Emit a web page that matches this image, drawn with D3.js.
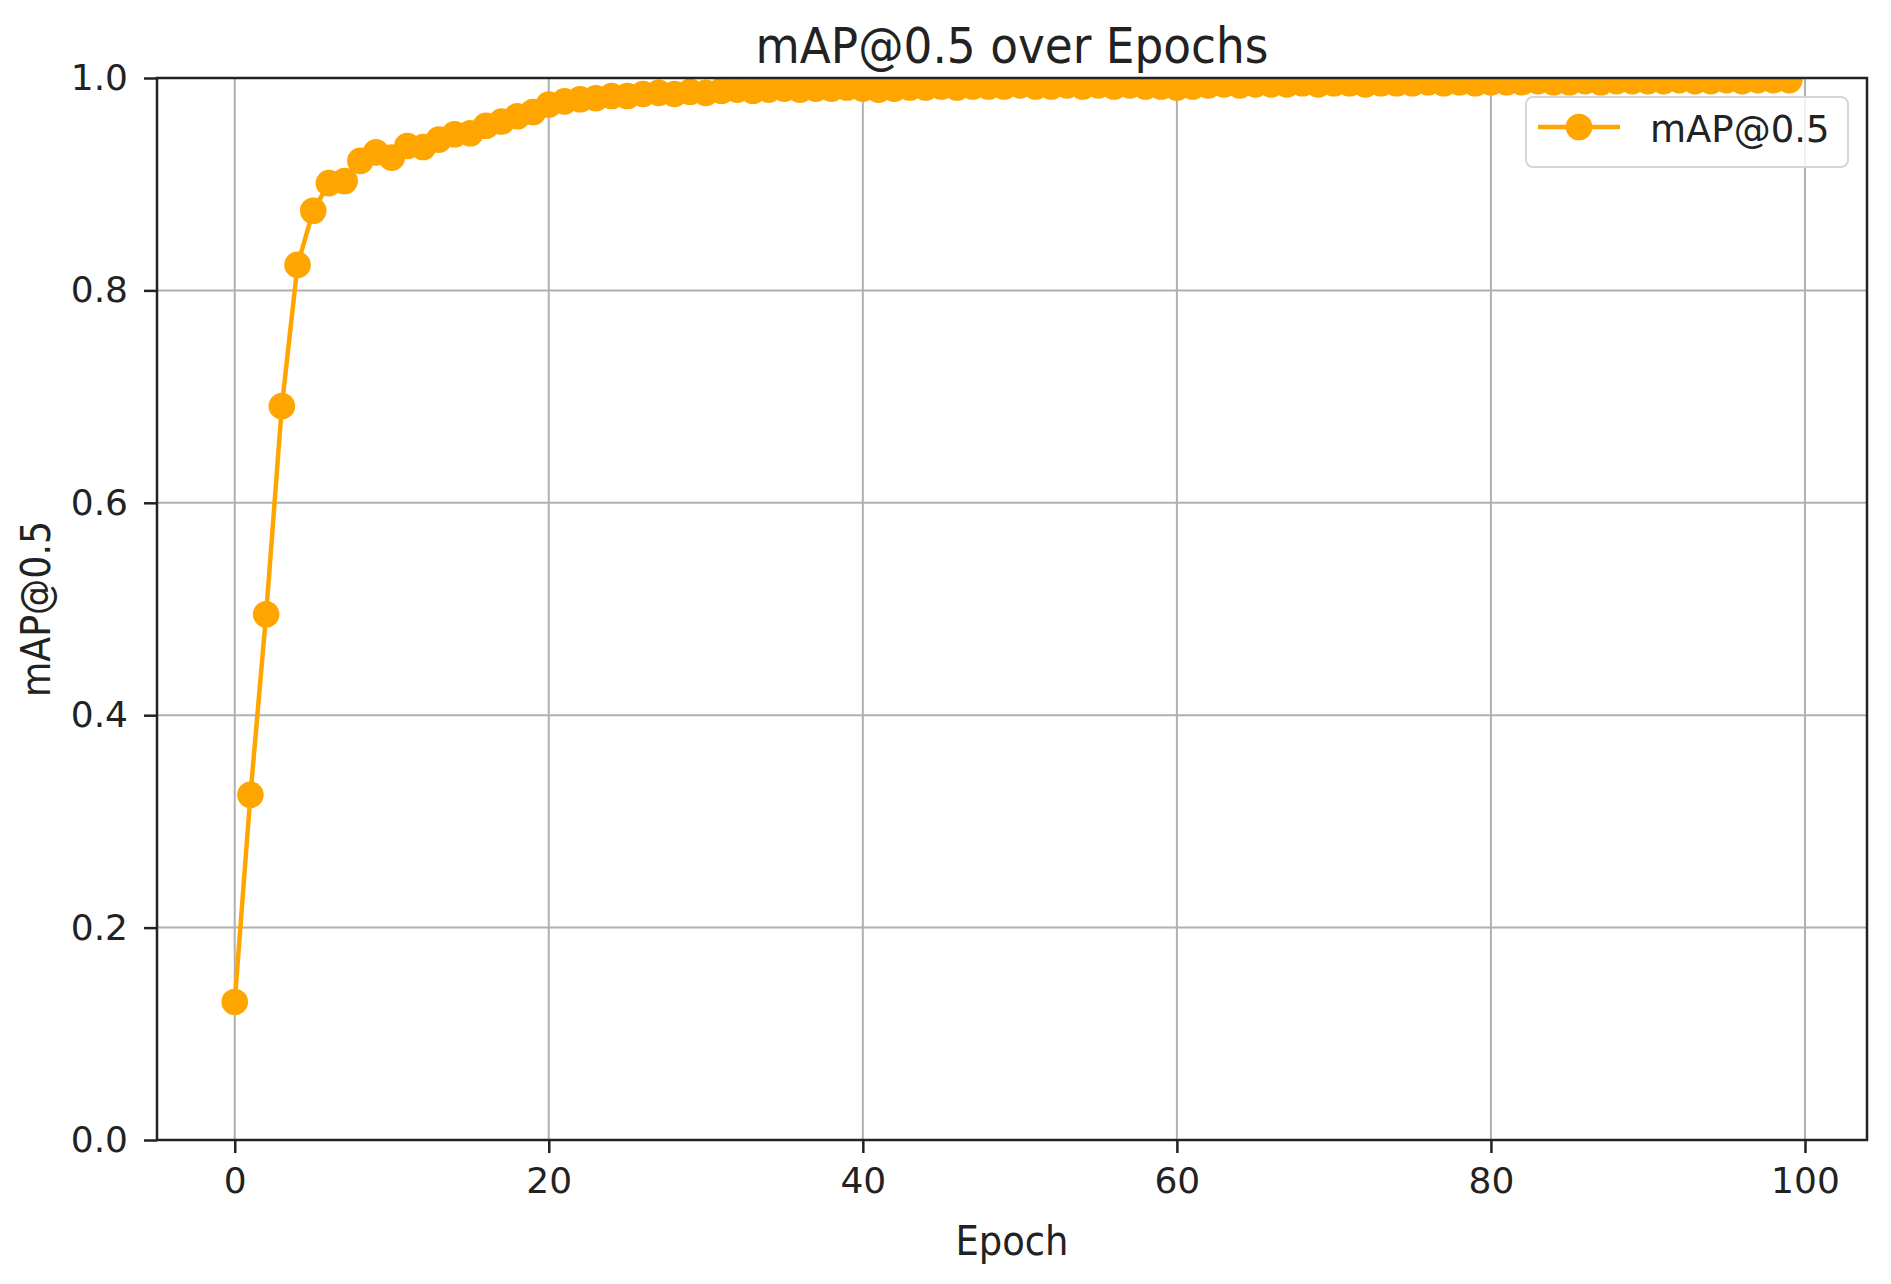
<!DOCTYPE html>
<html>
<head>
<meta charset="utf-8">
<script src="https://cdn.jsdelivr.net/npm/d3@7"></script>
<style>
  body { margin: 0; background: #fff; }
  text { font-family: "DejaVu Sans", sans-serif; fill: #222; }
</style>
</head>
<body>
<div id="chart"></div>
<script>
// mAP@0.5 per epoch
const epochs = d3.range(0, 100);
const mapValues = [
  0.130, 0.325, 0.495, 0.691, 0.824, 0.875, 0.901, 0.903, 0.922, 0.930,
  0.925, 0.936, 0.935, 0.942, 0.947, 0.948, 0.955, 0.959, 0.964, 0.968,
  0.975, 0.978, 0.980, 0.981, 0.983, 0.983, 0.985, 0.986, 0.985, 0.987,
  0.986, 0.988, 0.989, 0.988, 0.989, 0.990, 0.989, 0.990, 0.990, 0.991,
  0.990, 0.989, 0.990, 0.991, 0.991, 0.992, 0.991, 0.992, 0.992, 0.992,
  0.993, 0.992, 0.992, 0.993, 0.992, 0.993, 0.992, 0.993, 0.992, 0.992,
  0.991, 0.992, 0.993, 0.994, 0.993, 0.994, 0.994, 0.994, 0.995, 0.994,
  0.995, 0.995, 0.994, 0.995, 0.995, 0.995, 0.996, 0.995, 0.996, 0.995,
  0.996, 0.996, 0.996, 0.997, 0.996, 0.996, 0.997, 0.996, 0.997, 0.997,
  0.997, 0.997, 0.998, 0.997, 0.997, 0.998, 0.997, 0.998, 0.998, 0.998
];
const xTicks = [0, 20, 40, 60, 80, 100];
const yTicks = [0, 0.2, 0.4, 0.6, 0.8, 1.0];

const W = 1891, H = 1284;
const margin = { top: 78, right: 24, bottom: 144, left: 157 };
const width = W - margin.left - margin.right;
const height = H - margin.top - margin.bottom;
const orange = "#ffa500";

const svg = d3.select("#chart").append("svg")
    .attr("width", W)
    .attr("height", H);

const g = svg.append("g")
    .attr("transform", `translate(${margin.left},${margin.top})`);

// x range padded 5% like matplotlib
const x = d3.scaleLinear()
    .domain([-4.95, 103.95])
    .range([0, width]);

const y = d3.scaleLinear()
    .domain([0, 1])
    .range([height, 0]);

// grid
g.append("g").selectAll("line").data(xTicks).enter().append("line")
    .attr("x1", d => x(d)).attr("x2", d => x(d))
    .attr("y1", 0).attr("y2", height)
    .attr("stroke", "#b0b0b0").attr("stroke-width", 2);
g.append("g").selectAll("line").data(yTicks).enter().append("line")
    .attr("x1", 0).attr("x2", width)
    .attr("y1", d => y(d)).attr("y2", d => y(d))
    .attr("stroke", "#b0b0b0").attr("stroke-width", 2);

// clip to plot area
svg.append("defs").append("clipPath").attr("id", "plotClip")
  .append("rect").attr("width", width).attr("height", height);

const series = epochs.map((e, i) => ({ e: e, v: mapValues[i] }));
const plot = g.append("g").attr("clip-path", "url(#plotClip)");

plot.append("path")
    .datum(series)
    .attr("fill", "none")
    .attr("stroke", orange)
    .attr("stroke-width", 4.5)
    .attr("d", d3.line().x(d => x(d.e)).y(d => y(d.v)));

plot.selectAll(".dot")
    .data(series)
    .enter()
    .append("circle")
    .attr("class", "dot")
    .attr("cx", d => x(d.e))
    .attr("cy", d => y(d.v))
    .attr("r", 13.3)
    .attr("fill", orange);

// axes
const xAxis = g.append("g")
    .attr("transform", `translate(0,${height})`)
    .call(d3.axisBottom(x).tickValues(xTicks).tickSize(13).tickPadding(14).tickFormat(d3.format("d")));
const yAxis = g.append("g")
    .call(d3.axisLeft(y).tickValues(yTicks).tickSize(13).tickPadding(16).tickFormat(d3.format(".1f")));

[xAxis, yAxis].forEach(a => {
    a.select(".domain").remove();
    a.selectAll(".tick line").attr("stroke", "#222").attr("stroke-width", 2.5);
    a.selectAll(".tick text").attr("font-size", 36).attr("fill", "#222");
});
xAxis.selectAll(".tick text").attr("dy", "0.72em");

// spines
g.append("rect")
    .attr("width", width)
    .attr("height", height)
    .attr("fill", "none")
    .attr("stroke", "#222")
    .attr("stroke-width", 2.5);

// title and labels
svg.append("text")
    .attr("x", margin.left + width / 2)
    .attr("y", 63)
    .attr("text-anchor", "middle")
    .attr("font-size", 50)
    .attr("textLength", 513)
    .attr("lengthAdjust", "spacingAndGlyphs")
    .text("mAP@0.5 over Epochs");

svg.append("text")
    .attr("x", margin.left + width / 2)
    .attr("y", 1255)
    .attr("text-anchor", "middle")
    .attr("font-size", 40)
    .attr("textLength", 113)
    .attr("lengthAdjust", "spacingAndGlyphs")
    .text("Epoch");

svg.append("text")
    .attr("transform", `translate(50,${margin.top + height / 2}) rotate(-90)`)
    .attr("text-anchor", "middle")
    .attr("font-size", 40)
    .attr("textLength", 176)
    .attr("lengthAdjust", "spacingAndGlyphs")
    .text("mAP@0.5");

// legend
const legend = svg.append("g").attr("transform", "translate(1526,97)");
legend.append("rect")
    .attr("width", 322)
    .attr("height", 70)
    .attr("rx", 7)
    .attr("fill", "#fff")
    .attr("fill-opacity", 0.8)
    .attr("stroke", "#d6d6d6")
    .attr("stroke-width", 2);
legend.append("line")
    .attr("x1", 12).attr("x2", 94)
    .attr("y1", 30).attr("y2", 30)
    .attr("stroke", orange).attr("stroke-width", 4.5);
legend.append("circle")
    .attr("cx", 53).attr("cy", 30).attr("r", 13.3)
    .attr("fill", orange);
legend.append("text")
    .attr("x", 124)
    .attr("y", 45)
    .attr("font-size", 37)
    .text("mAP@0.5");
</script>
</body>
</html>
